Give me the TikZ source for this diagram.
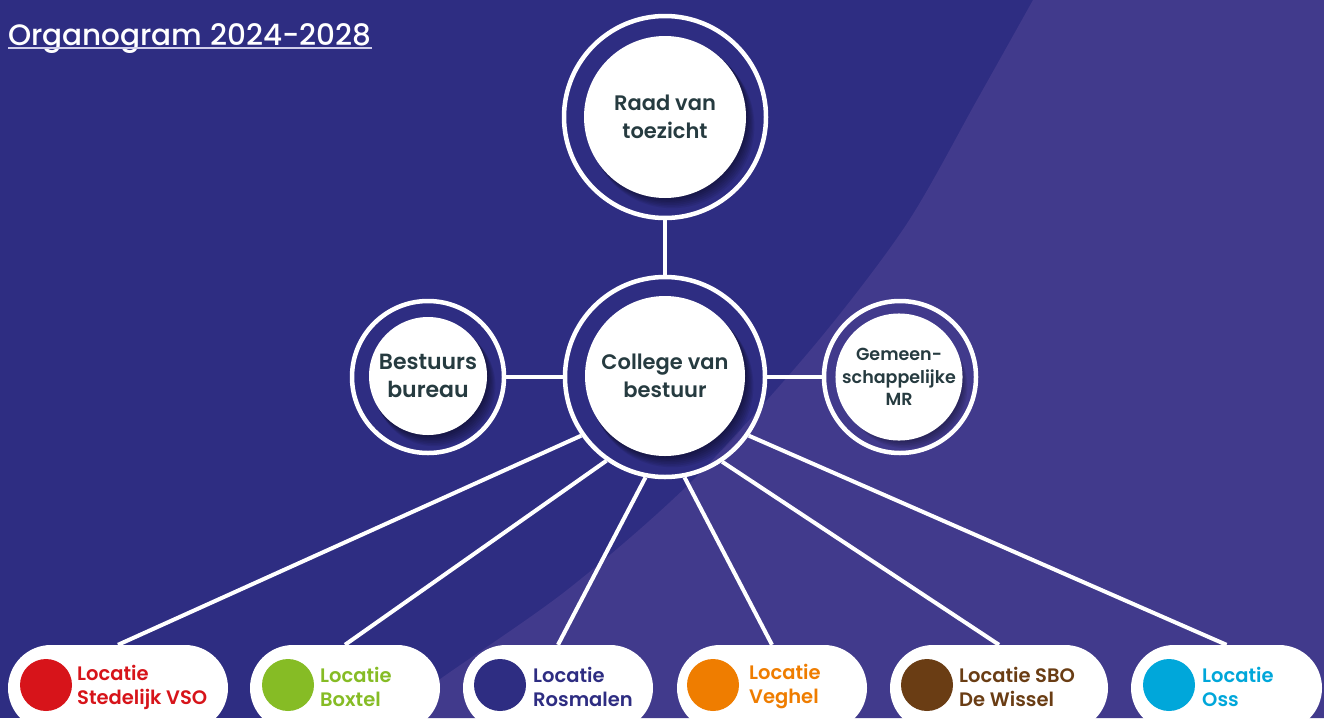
\documentclass[tikz,border=0pt]{standalone}
\usepackage{fontspec}
\setmainfont{Poppins}[UprightFont={* Medium}, BoldFont={* SemiBold}]
\usetikzlibrary{shapes.misc,calc}
\definecolor{bgdark}{HTML}{2E2D82}
\definecolor{bglite}{HTML}{413A8C}
\definecolor{txt}{HTML}{263B40}
\definecolor{ulc}{HTML}{D0CEEA}
\definecolor{cred}{HTML}{D7141A}
\definecolor{cgreen}{HTML}{86BC25}
\definecolor{cnavy}{HTML}{2E2D82}
\definecolor{corange}{HTML}{EF7D00}
\definecolor{cbrown}{HTML}{6A3D14}
\definecolor{ccyan}{HTML}{00A7DA}
\newcommand\dshadow[3]{\foreach \k in {1,...,7}{\fill[black, opacity=0.075] (#1+1.0*\k, #2+1.4*\k) circle (#3+0.2*\k);}}
\begin{document}
\begin{tikzpicture}[x=1pt,y=-1pt,
  ring/.style={circle, draw=white, line width=4.5pt, inner sep=0pt, minimum size=#1},
  disc/.style={circle, fill=white, inner sep=0pt, minimum size=#1, text=txt, align=center},
  link/.style={draw=white, line width=4pt},
  pill/.style={rounded rectangle, fill=white, minimum height=86pt, minimum width=#1, inner sep=0pt},
  dot/.style={circle, fill=#1, minimum size=52pt, inner sep=0pt},
  loc/.style={anchor=west, text=#1, align=left, font=\bfseries\fontsize{19.5}{24}\selectfont, inner sep=0pt},
  big/.style={font=\bfseries\fontsize{21}{27.5}\selectfont},
  mid/.style={font=\bfseries\fontsize{22}{27.5}\selectfont},
  small/.style={font=\bfseries\fontsize{17.5}{22.5}\selectfont},
]
\useasboundingbox (0,0) rectangle (1324,718);
\clip (0,0) rectangle (1324,718);
% background
\fill[bgdark] (0,0) rectangle (1324,718);
\fill[bglite] plot[smooth] coordinates {(1033,0) (977,100) (906,225) (813,347) (690,483) (567,590) (443,677) (387,718)} -- (1324,718) -- (1324,0) -- cycle;
% title
\node[anchor=base west, text=white, font=\fontsize{29.5}{33}\selectfont, inner sep=0pt] (title) at (8,45) {Organogram 2024-2028};
\draw[ulc, line width=1.6pt] ($(title.base west)+(0,3)$) -- ($(title.base east)+(0,3)$);
% rings
\node[ring=202pt] (rvt) at (665,117) {};
\node[ring=200pt] (cvb) at (665,377) {};
\node[ring=152pt] (bb) at (428,377) {};
\node[ring=152pt] (mr) at (900,377) {};
% pills
\node[pill=220pt] (p1) at (118,688) {};
\node[pill=190pt] (p2) at (345,688) {};
\node[pill=190pt] (p3) at (558,688) {};
\node[pill=190pt] (p4) at (772,688) {};
\node[pill=218pt] (p5) at (999,688) {};
\node[pill=191pt] (p6) at (1226.5,688) {};
% connectors
\draw[link] (rvt) -- (cvb);
\draw[link] (bb) -- (cvb);
\draw[link] (cvb) -- (mr);
\draw[link] (cvb.215) -- (p1.north);
\draw[link] (cvb.235) -- (p2.north);
\draw[link] (cvb.259) -- (p3.north);
\draw[link] (cvb.281) -- (p4.north);
\draw[link] (cvb.304) -- (p5.north);
\draw[link] (cvb.325) -- (p6.north);
% shadows + discs
\dshadow{665}{116}{81}
\node[disc=162pt, big] (rvtin) at (665,117) {Raad van\\toezicht};
\dshadow{665}{376}{80}
\node[disc=160pt, big] (cvbin) at (665,376) {College van\\bestuur};
\dshadow{428}{376}{59}
\node[disc=118pt, mid] (bbin) at (428,376) {Bestuurs\\bureau};
\dshadow{899}{377}{60}
\node[disc=120pt, small] (mrin) at (899,377) {Gemeen-\\schappelijke\\MR};
% locations
\node[dot=cred] (d1) at (46,685) {};
\node[loc=cred] (t1) at (77,687) {Locatie\\Stedelijk VSO};
\node[dot=cgreen] (d2) at (288,685) {};
\node[loc=cgreen] (t2) at (320,687) {Locatie\\Boxtel};
\node[dot=cnavy] (d3) at (500,685) {};
\node[loc=cnavy] (t3) at (533,687) {Locatie\\Rosmalen};
\node[dot=corange] (d4) at (713,685) {};
\node[loc=corange] (t4) at (749,687) {Locatie\\Veghel};
\node[dot=cbrown] (d5) at (927,685) {};
\node[loc=cbrown] (t5) at (959,687) {Locatie SBO\\De Wissel};
\node[dot=ccyan] (d6) at (1169,685) {};
\node[loc=ccyan] (t6) at (1202,687) {Locatie\\Oss};
\end{tikzpicture}
\end{document}
